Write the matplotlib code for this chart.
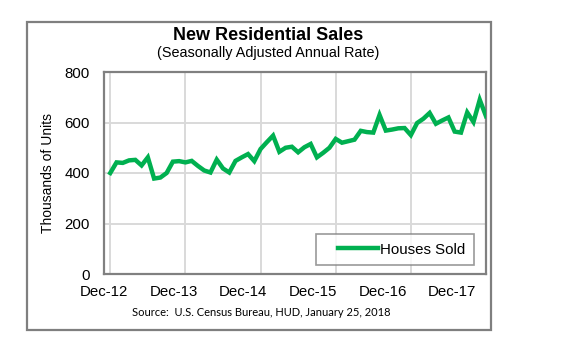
import matplotlib
matplotlib.use('Agg')
import matplotlib.pyplot as plt
from matplotlib.patches import Rectangle
from matplotlib.legend_handler import HandlerLine2D
import numpy as np

plt.rcParams['font.family'] = ['Liberation Sans', 'DejaVu Sans']

# monthly new home sales, SAAR (thousands), Dec-12 .. Dec-17
sales_2012 = [400]
sales_2013 = [442, 440, 450, 452, 430, 462, 378, 382, 400, 445, 447, 442]
sales_2014 = [448, 428, 410, 402, 453, 418, 402, 448, 462, 475, 447, 495]
sales_2015 = [522, 548, 484, 500, 504, 482, 502, 515, 462, 480, 500, 535]
sales_2016 = [520, 526, 532, 567, 562, 560, 630, 568, 572, 577, 578, 550]
sales_2017 = [598, 615, 638, 595, 608, 620, 564, 560, 640, 602, 690, 625]
sales = sales_2012 + sales_2013 + sales_2014 + sales_2015 + sales_2016 + sales_2017

tick_labels = ['Dec-12', 'Dec-13', 'Dec-14', 'Dec-15', 'Dec-16', 'Dec-17']
y_ticks = [0, 200, 400, 600, 800]


class IndentLine(HandlerLine2D):
    # legend line pushed a bit to the right, like the excel legend
    def create_artists(self, legend, orig_handle, xdescent, ydescent,
                       width, height, fontsize, trans):
        shift = 10
        return super().create_artists(legend, orig_handle, xdescent - shift,
                                       ydescent, width - shift, height,
                                       fontsize, trans)


W, H = 561, 363
fig = plt.figure(figsize=(W / 100, H / 100), dpi=100)

# outer border of the chart
fig.patches.append(Rectangle((27 / W, 1 - 330 / H), 464 / W, 308 / H,
                             transform=fig.transFigure, fill=False,
                             edgecolor='#7f7f7f', linewidth=1.6))

ax = fig.add_axes([104 / W, 1 - 274 / H, 382 / W, 202 / H])
months = np.arange(len(sales))
line, = ax.plot(months, sales, color='#00b050', linewidth=3.2, label='Houses Sold',
                solid_joinstyle='miter', zorder=3)

ax.set_xlim(0, len(sales) - 1)
ax.set_ylim(0, 800)
ax.set_yticks(y_ticks)
ax.set_yticklabels([str(v) for v in y_ticks], fontsize=10.8)

# gridlines every 12 months, labels sit where excel put them
ax.set_xticks(np.arange(0, len(sales), 12), minor=True)
ax.set_xticks(np.linspace(-1.0, 54.6, len(tick_labels)))
ax.set_xticklabels(tick_labels, fontsize=10.8)
ax.grid(True, which='minor', axis='x', color='#d9d9d9', linewidth=1.4)
ax.grid(True, which='major', axis='y', color='#d9d9d9', linewidth=1.4)
ax.tick_params(which='both', length=0)
ax.tick_params(axis='y', pad=10)
ax.tick_params(axis='x', pad=8)
ax.set_axisbelow(True)

for s in ax.spines.values():
    s.set_color('#808080')
    s.set_linewidth(1.6)

ax.set_ylabel('Thousands of Units', fontsize=10, labelpad=7)

leg = ax.legend(loc='lower right', bbox_to_anchor=(0.988, 0.008), fontsize=10.8,
                frameon=True, fancybox=False, handlelength=3.6,
                handletextpad=0.15, borderpad=0.55,
                handler_map={line: IndentLine()})
leg.get_frame().set_edgecolor('#808080')
leg.get_frame().set_linewidth(1.2)

fig.text(268 / W, 1 - 35 / H, 'New Residential Sales', ha='center', va='center',
         fontsize=13, fontweight='bold')
fig.text(268 / W, 1 - 53 / H, '(Seasonally Adjusted Annual Rate)', ha='center',
         va='center', fontsize=10.4)
fig.text(261 / W, 1 - 313 / H, 'Source:  U.S. Census Bureau, HUD, January 25, 2018',
         ha='center', va='center', fontsize=8, family=['Lato', 'DejaVu Sans'])

fig.savefig('out.png', dpi=100)
